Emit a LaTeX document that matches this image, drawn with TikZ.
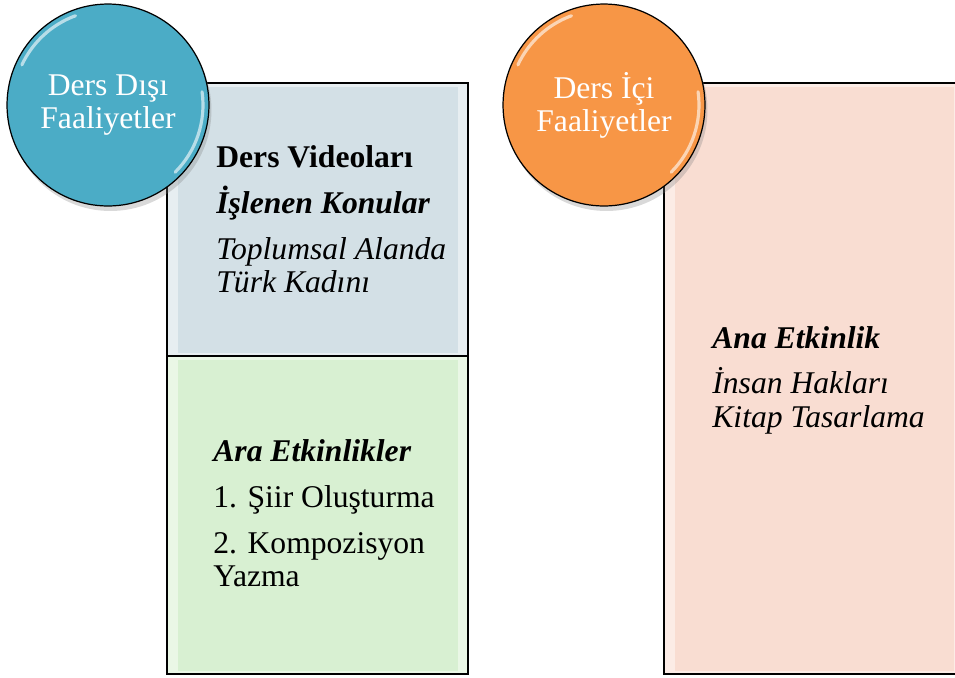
\documentclass[tikz,border=0pt]{standalone}
\usepackage{fontspec}
\setmainfont{Liberation Serif}
\usetikzlibrary{positioning,shadows}
\definecolor{disblue}{HTML}{4BACC6}
\definecolor{iciorange}{HTML}{F79646}
\definecolor{videobg}{HTML}{D3E0E6}
\definecolor{arabg}{HTML}{D8F0D2}
\definecolor{anabg}{HTML}{F9DDD2}
\newcommand{\bodysize}{\fontsize{18}{18.8}\selectfont}
\tikzset{
    % round badge with the title
    badge/.style={
           circle,
           draw=black, line width=0.7pt,
           minimum size=4.04cm,
           inner sep=0pt,
           align=center,
           text=white,
           font=\bodysize,
           fill=#1,
           drop shadow={opacity=0.3, shadow xshift=0.05cm, shadow yshift=-0.1cm}},
    % bevelled panel
    panel/.style={
           rectangle,
           draw=black, line width=1.1pt,
           fill=#1!55!white,
           inner sep=0pt,
           anchor=north west,
           path picture={
               \fill[#1] ([shift={(0.22cm,-0.08cm)}]path picture bounding box.north west)
                   rectangle ([shift={(-0.2cm,0.06cm)}]path picture bounding box.south east);}},
    % text lines
    txt/.style={anchor=base west, inner sep=0pt, font=\bodysize},
    head/.style={txt, font=\bodysize\bfseries\itshape},
    gloss/.style={white, opacity=0.6, line width=1.8pt, line cap=round}
}
\begin{document}
\begin{tikzpicture}[x=0.02cm,y=-0.02cm]
\useasboundingbox (0,0) rectangle (955,677);
% panels
\node[panel=videobg, minimum width=6.02cm, minimum height=5.46cm] (videos) at (166,82) {};
\node[panel=arabg, minimum width=6.02cm, minimum height=6.36cm] (ara) at (166,355) {};
\node[panel=anabg, minimum width=6.0cm, minimum height=11.82cm] (ana) at (663,82) {};
% badges
\node[badge=disblue] (disi) at (108,105) {Ders Dışı\\Faaliyetler};
\node[badge=iciorange] (ici) at (604,105) {Ders İçi\\Faaliyetler};
\draw[gloss] ([shift={(110:1.9cm)}]disi.center) arc (110:155:1.9cm);
\draw[gloss] ([shift={(8:1.9cm)}]disi.center) arc (8:-45:1.9cm);
\draw[gloss] ([shift={(110:1.9cm)}]ici.center) arc (110:155:1.9cm);
\draw[gloss] ([shift={(8:1.9cm)}]ici.center) arc (8:-45:1.9cm);
% out of class
\node[txt, font=\bodysize\bfseries] (vidtitle) at (216,167) {Ders Videoları};
\node[head] (konular) at (216,213) {İşlenen Konular};
\node[txt, font=\bodysize\itshape] (konu1) at (216,259) {Toplumsal Alanda};
\node[txt, font=\bodysize\itshape] (konu2) at (216,292) {Türk Kadını};
\node[head] (aratitle) at (213,461) {Ara Etkinlikler};
\node[txt] (ara1) at (213,507) {1. Şiir Oluşturma};
\node[txt] (ara2) at (213,553) {2. Kompozisyon};
\node[txt] (ara3) at (213,586) {Yazma};
% in class
\node[head] (anatitle) at (712,348) {Ana Etkinlik};
\node[txt, font=\bodysize\itshape] (ana1) at (712,393) {İnsan Hakları};
\node[txt, font=\bodysize\itshape] (ana2) at (712,427) {Kitap Tasarlama};
\end{tikzpicture}
\end{document}
